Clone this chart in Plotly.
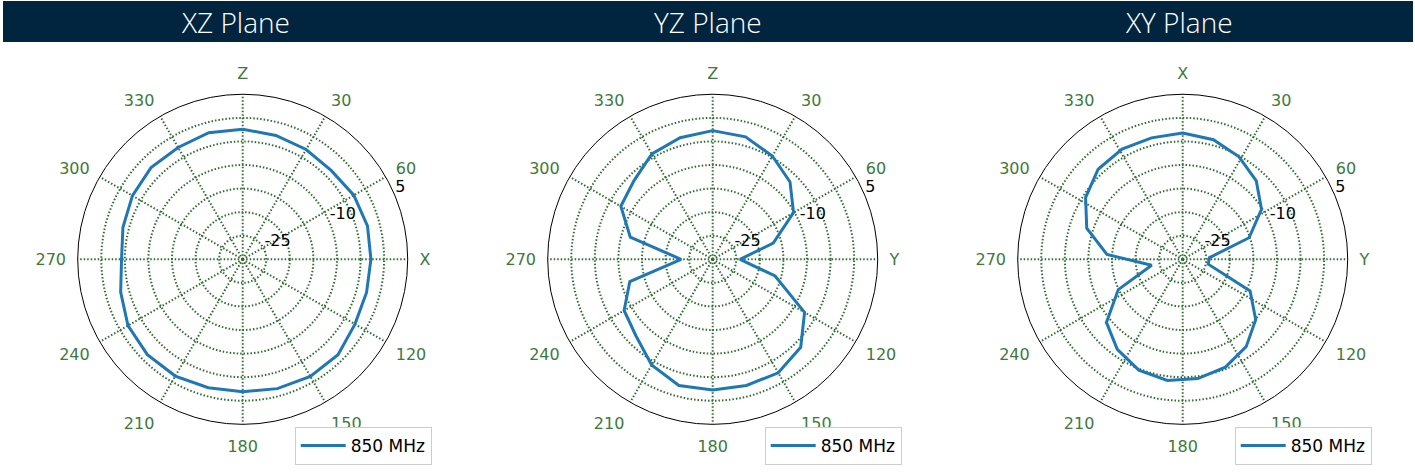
import plotly.graph_objects as go

# ---------------- data ----------------
titles = ["XZ Plane", "YZ Plane", "XY Plane"]
legend_name = "850 MHz"

theta_xz = [0, 15, 30, 45, 60, 75, 90, 105, 120, 135, 150, 165, 180,
            195, 210, 225, 240, 255, 270, 285, 300, 315, 330, 345, 360]
r_xz = [-2.4, -2.8, -3.1, -3.4, -2.8, -2.6, -2.8, -2.8, -2.5, -1.4, -1.3, -1.6, -1.9,
        -1.8, -1.4, -1.4, -1.9, -3.2, -4.3, -3.7, -3.0, -2.5, -2.6, -2.2, -2.4]

theta_yz = [0, 15, 30, 45, 60, 75, 90, 105, 120, 135, 150, 165, 180,
            195, 210, 225, 240, 255, 270, 285, 300, 315, 330, 345, 360]
r_yz = [-2.7, -3.1, -4.7, -6.8, -10.2, -16.7, -24.2, -16.3, -7.5, -3.6, -2.2, -2.3, -2.3,
        -2.3, -4.1, -7.0, -8.3, -11.8, -23.3, -11.9, -7.5, -6.4, -4.2, -3.3, -2.7]

theta_xy = [0, 14.4, 28.8, 43.2, 57.6, 72, 86.4, 100.8, 115.2, 129.6, 144, 158.4, 172.8,
            187.2, 201.6, 216, 230.4, 244.8, 259.2, 273.6, 288, 302.4, 316.8, 331.2, 345.6, 360]
r_xy = [-3.2, -3.8, -5.2, -7.2, -10.2, -15.2, -24.3, -24.5, -14.2, -9.9, -7.1, -5.4, -4.5,
        -4.1, -4.7, -6.4, -9.0, -14.9, -23.3, -13.9, -8.6, -5.6, -3.8, -3.3, -3.4, -3.2]

angle_ticks = [0, 30, 60, 90, 120, 150, 180, 210, 240, 270, 300, 330]
angle_text_xz = ["Z", "30", "60", "X", "120", "150", "180", "210", "240", "270", "300", "330"]
angle_text_yz = ["Z", "30", "60", "Y", "120", "150", "180", "210", "240", "270", "300", "330"]
angle_text_xy = ["X", "30", "60", "Y", "120", "150", "180", "210", "240", "270", "300", "330"]

radial_ticks = [-25, -20, -15, -10, -5, 0, 5]
radial_label_values = [-25, -10, 5]
radial_label_text = ["-25", "-10", "5"]
radial_range = [-30, 5]

# ---------------- style / layout constants ----------------
RADIAL_LABEL_BEARING = 67.5   # 22.5 deg above east (matplotlib default label position)

W, H = 1415, 472
centers_x = [242.7, 712.7, 1182.7]
center_y = 259.3
R = 165.0

GREEN = "#3c7a3c"
GRID = "#2f6d2f"
LINE = "#1f77b4"
NAVY = "#01253f"
FONT = "DejaVu Sans"
DOTS = "1.5px,2px"

fig = go.Figure()
datasets = [(theta_xz, r_xz, angle_text_xz),
            (theta_yz, r_yz, angle_text_yz),
            (theta_xy, r_xy, angle_text_xy)]

for i, (th, rr, atext) in enumerate(datasets):
    pname = "polar" if i == 0 else f"polar{i+1}"
    lname = "legend" if i == 0 else f"legend{i+1}"
    fig.add_trace(go.Scatterpolar(
        theta=th, r=rr, mode="lines", name=legend_name,
        line=dict(color=LINE, width=3),
        subplot=pname, legend=lname, showlegend=True,
    ))
    # radial tick labels (matplotlib-style: left/bottom anchored at the ring)
    fig.add_trace(go.Scatterpolar(
        theta=[RADIAL_LABEL_BEARING] * len(radial_label_values),
        r=radial_label_values, text=radial_label_text,
        mode="text", textposition="top right",
        textfont=dict(family=FONT, size=16, color="black"),
        subplot=pname, showlegend=False, hoverinfo="skip", cliponaxis=False,
    ))
    cx = centers_x[i]
    dom_x = [(cx - R) / W, (cx + R) / W]
    dom_y = [(H - center_y - R) / H, (H - center_y + R) / H]
    fig.update_layout(**{
        pname: dict(
            domain=dict(x=dom_x, y=dom_y),
            bgcolor="white",
            angularaxis=dict(
                rotation=90, direction="clockwise",
                tickmode="array", tickvals=angle_ticks, ticktext=atext,
                tickfont=dict(family=FONT, size=16, color=GREEN),
                showline=True, linecolor="black", linewidth=1,
                showgrid=True, gridcolor=GRID, griddash=DOTS, gridwidth=1.5,
                ticks="outside", ticklen=8, tickcolor="rgba(0,0,0,0)",
            ),
            radialaxis=dict(
                range=radial_range, angle=22.5,
                tickmode="array", tickvals=radial_ticks,
                showticklabels=False,
                showline=False, ticks="",
                showgrid=True, gridcolor=GRID, griddash=DOTS, gridwidth=1.5,
            ),
        ),
        lname: dict(
            x=(cx + 189) / W, y=(H - 465) / H, xanchor="right", yanchor="bottom",
            bgcolor="white", bordercolor="#cccccc", borderwidth=1,
            font=dict(family=FONT, size=17, color="black"),
            itemwidth=45,
        ),
    })

# title band
fig.add_shape(type="rect", xref="paper", yref="paper",
              x0=3 / W, x1=1413 / W, y0=(H - 42) / H, y1=(H - 1) / H,
              fillcolor=NAVY, line=dict(width=0), layer="below")
for i, t in enumerate(titles):
    fig.add_annotation(
        text=t, xref="paper", yref="paper",
        x=(i + 0.5) / 3, y=(H - 21.5) / H, xanchor="center", yanchor="middle",
        showarrow=False,
        font=dict(family="Open Sans", size=28, color="white", weight=300),
    )

fig.update_layout(
    width=W, height=H,
    margin=dict(l=0, r=0, t=0, b=0),
    paper_bgcolor="white",
    showlegend=True,
)

fig.write_html("out.html", config={"displayModeBar": False},
               post_script="document.body.style.margin='0';document.body.style.padding='0';")
